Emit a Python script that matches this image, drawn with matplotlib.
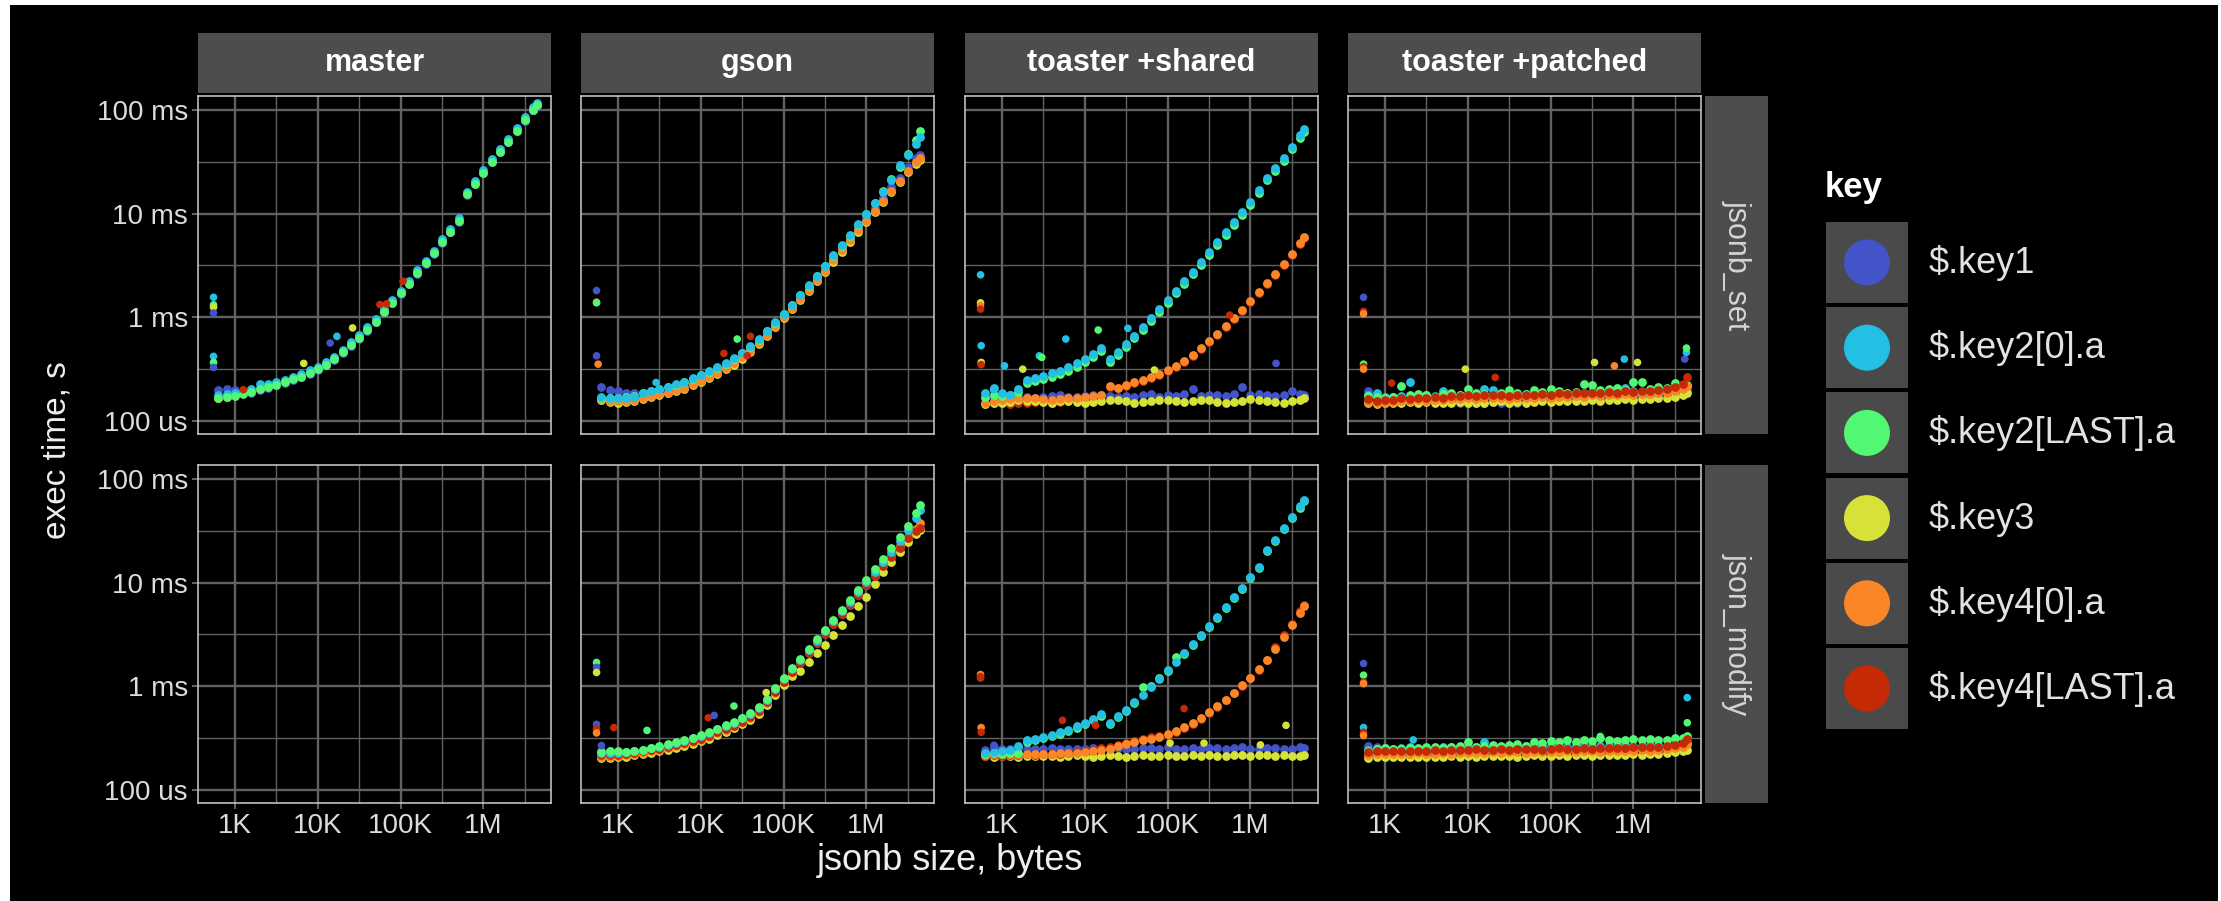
import matplotlib
matplotlib.use('Agg')
import matplotlib.pyplot as plt
from matplotlib.patches import Rectangle, Circle
from matplotlib.ticker import NullFormatter

plt.rcParams['font.family'] = ['Liberation Sans', 'DejaVu Sans']

W, H = 2221, 901

keys = ['$.key1', '$.key2[0].a', '$.key2[LAST].a', '$.key3', '$.key4[0].a', '$.key4[LAST].a']
key_colors = ['#4354c8', '#23c0e3', '#52f774', '#d6e237', '#fb8628', '#c42a06']
implementations = ['master', 'gson', 'toaster +shared', 'toaster +patched']
functions = ['jsonb_set', 'json_modify']

x_ticks = [1e3, 1e4, 1e5, 1e6]
x_labels = ['1K', '10K', '100K', '1M']
x_minor = [3162, 31623, 316228, 3162278]
y_ticks = [1e-4, 1e-3, 1e-2, 1e-1]
y_labels = ['100 us', '1 ms', '10 ms', '100 ms']
y_minor = [3.162e-4, 3.162e-3, 3.162e-2]

# jsonb size, bytes
sizes = [630, 790, 1000, 1260, 1580, 2000, 2510, 3160, 3980, 5010,
         6310, 7940, 10000, 12600, 15800, 20000, 25100, 31600, 39800, 50100,
         63100, 79400, 100000, 126000, 158000, 200000, 251000, 316000, 398000, 501000,
         631000, 794000, 1000000, 1260000, 1580000, 2000000, 2510000, 3160000, 3980000, 4470000]

# exec time, microseconds

# master / jsonb_set
master_set_blue = [200, 203, 198, 186, 188, 198, 210, 220, 232, 250,
                   264, 286, 312, 345, 390, 452, 532, 622, 745, 898,
                   1120, 1370, 1690, 2080, 2640, 3300, 4120, 5250, 6600, 8300,
                   15200, 19300, 24500, 31200, 39000, 48800, 62500, 79000, 99000, 110000]
master_set_cyan = [178, 180, 184, 192, 205, 226, 228, 236, 250, 268,
                   284, 308, 335, 368, 418, 486, 572, 668, 800, 962,
                   1200, 1470, 1810, 2230, 2830, 3530, 4400, 5640, 7040, 9100,
                   16300, 20700, 26200, 33500, 41900, 52300, 66800, 84800, 106000, 118000]
master_set_green = [168, 170, 175, 181, 190, 202, 213, 223, 235, 252,
                    268, 290, 316, 348, 395, 458, 540, 631, 754, 908,
                    1135, 1387, 1707, 2101, 2668, 3330, 4160, 5320, 6640, 8420,
                    15400, 19500, 24700, 31600, 39500, 49300, 63000, 80000, 100000, 112000]
master_set_rest = [165, 172, 178, 184, 192, 205, 216, 226, 238, 255,
                   272, 294, 320, 352, 400, 463, 548, 640, 765, 920,
                   1150, 1400, 1720, 2120, 2690, 3360, 4200, 5370, 6700, 8500,
                   15500, 19700, 25000, 31900, 39900, 49800, 63600, 80800, 101000, 113000]
master_set_out_size = [550, 550, 550, 550, 550, 550, 550, 26300, 17000, 14100, 6760, 56200, 67600, 107000, 1260]
master_set_out_us = [1560, 1320, 1250, 1100, 420, 367, 328, 790, 655, 565, 359, 1330, 1350, 2230, 200]
master_set_out_key = [1, 2, 3, 0, 1, 2, 0, 3, 1, 0, 3, 5, 5, 5, 5]

# gson / jsonb_set
gson_set_blue = [213, 200, 195, 188, 184, 184, 188, 193, 195, 202,
                 213, 232, 252, 277, 304, 338, 378, 429, 497, 590,
                 711, 862, 1053, 1287, 1585, 1950, 2420, 3000, 3750, 4690,
                 5860, 7330, 9160, 11400, 14300, 17900, 22300, 27900, 34100, 36600]
gson_set_cyan = [170, 167, 165, 168, 172, 186, 196, 205, 214, 226,
                 240, 257, 279, 300, 328, 362, 404, 455, 524, 617,
                 743, 895, 1077, 1326, 1645, 2040, 2530, 3160, 3950, 4940,
                 6200, 7900, 10000, 12700, 16200, 21000, 29400, 36700, 47500, 55100]
gson_set_green = [168, 165, 166, 170, 175, 184, 194, 203, 212, 224,
                  238, 255, 276, 298, 325, 358, 400, 450, 518, 610,
                  735, 885, 1065, 1310, 1630, 2020, 2510, 3130, 3920, 4900,
                  6150, 7850, 9950, 12800, 16400, 21500, 28500, 37500, 51000, 63000]
gson_set_yellow = [158, 152, 150, 152, 155, 162, 170, 177, 184, 194,
                   205, 222, 238, 260, 286, 316, 350, 400, 464, 550,
                   658, 798, 975, 1190, 1465, 1805, 2240, 2760, 3450, 4300,
                   5380, 6720, 8280, 10300, 12900, 16100, 20100, 25000, 30200, 33000]
gson_set_orange = [162, 156, 154, 156, 158, 166, 174, 181, 188, 198,
                   210, 227, 244, 266, 293, 324, 359, 410, 476, 564,
                   674, 818, 1000, 1222, 1504, 1852, 2297, 2827, 3540, 4420,
                   5520, 6900, 8500, 10600, 13300, 16600, 20700, 25900, 31400, 34100]
gson_set_red = [160, 158, 155, 157, 160, 168, 176, 183, 190, 200,
                212, 229, 247, 270, 297, 328, 364, 416, 482, 570,
                680, 826, 1010, 1235, 1520, 1870, 2320, 2850, 3580, 4460,
                5570, 6960, 8580, 10700, 13400, 16800, 20900, 26200, 31800, 34600]
gson_set_out_size = [550, 550, 550, 550, 575, 27500, 19000, 39800, 36300, 2880]
gson_set_out_us = [1810, 1400, 1380, 425, 353, 617, 448, 655, 425, 235]
gson_set_out_key = [0, 4, 2, 0, 4, 2, 5, 5, 5, 1]

# toaster +shared / jsonb_set
shared_set_blue = [165, 170, 168, 172, 175, 172, 168, 170, 174, 176,
                   172, 170, 173, 176, 178, 174, 172, 175, 172, 178,
                   181, 172, 176, 174, 180, 202, 174, 178, 176, 174,
                   180, 213, 176, 180, 178, 174, 176, 195, 180, 176]
shared_set_cyan = [188, 210, 188, 179, 202, 248, 259, 273, 287, 304,
                   328, 359, 395, 442, 505, 395, 458, 552, 665, 812,
                   985, 1204, 1471, 1811, 2230, 2764, 3430, 4260, 5320, 6640,
                   8300, 10400, 12900, 16800, 22300, 27300, 34100, 44300, 57100, 65000]
shared_set_green = [172, 176, 175, 178, 190, 232, 242, 255, 268, 284,
                    306, 335, 368, 412, 470, 372, 430, 518, 625, 762,
                    925, 1130, 1380, 1700, 2100, 2600, 3230, 4000, 5000, 6250,
                    7800, 9800, 12200, 15900, 21000, 25800, 32200, 42000, 54000, 62000]
shared_set_yellow = [145, 150, 148, 152, 160, 156, 154, 152, 150, 155,
                     157, 153, 150, 152, 155, 158, 160, 154, 150, 152,
                     156, 160, 158, 154, 152, 155, 160, 158, 153, 150,
                     152, 156, 162, 158, 154, 152, 150, 154, 158, 165]
shared_set_orange = [150, 156, 158, 162, 166, 168, 166, 162, 160, 162,
                     166, 168, 171, 175, 179, 218, 210, 223, 235, 248,
                     263, 283, 309, 340, 381, 435, 505, 586, 690, 824,
                     985, 1186, 1428, 1744, 2134, 2627, 3280, 4100, 5190, 5950]
shared_set_red = [146, 148, 150, 146, 150, 148, 152, 155, 150, 153,
                  156, 158, 162, 166, 170, 212, 206, 218, 230, 242,
                  258, 278, 302, 333, 373, 426, 495, 574, 676, 808,
                  965, 1160, 1400, 1710, 2090, 2575, 3210, 4020, 5090, 5830]
shared_set_out_size = [550, 550, 550, 550, 560, 560, 560, 1070, 1780, 2820, 3020, 5890,
                       14500, 33100, 69200, 562000, 2040000, 790]
shared_set_out_us = [2570, 1380, 1300, 1200, 532, 367, 349, 340, 316, 425, 410, 617,
                     754, 783, 310, 1050, 359, 200]
shared_set_out_key = [1, 3, 4, 5, 1, 3, 5, 1, 3, 1, 2, 1, 2, 1, 3, 5, 0, 1]

# toaster +patched / jsonb_set
patched_set_blue = [195, 180, 165, 162, 160, 158, 162, 160, 163, 158,
                    152, 150, 150, 148, 150, 152, 150, 148, 150, 152,
                    160, 162, 165, 163, 166, 168, 165, 170, 168, 172,
                    170, 174, 172, 176, 178, 175, 180, 185, 190, 200]
patched_set_cyan = [176, 188, 172, 170, 175, 240, 178, 176, 174, 195,
                    178, 176, 180, 182, 203, 200, 182, 180, 178, 182,
                    180, 184, 182, 186, 184, 188, 186, 190, 188, 190,
                    192, 210, 194, 192, 196, 194, 198, 200, 210, 218]
patched_set_green = [175, 170, 168, 172, 218, 178, 180, 176, 172, 180,
                     184, 178, 205, 185, 180, 178, 186, 200, 188, 182,
                     198, 190, 205, 196, 188, 192, 225, 220, 198, 205,
                     210, 200, 240, 235, 205, 212, 206, 230, 215, 222]
patched_set_yellow = [148, 146, 148, 150, 150, 152, 150, 152, 150, 148,
                      150, 152, 150, 148, 150, 152, 154, 150, 152, 150,
                      153, 155, 152, 156, 154, 157, 155, 160, 156, 160,
                      158, 162, 160, 163, 162, 165, 168, 172, 178, 185]
patched_set_orange = [152, 150, 150, 152, 156, 155, 158, 157, 160, 158,
                      162, 163, 165, 163, 166, 165, 167, 164, 166, 165,
                      168, 170, 167, 172, 170, 174, 172, 176, 173, 178,
                      176, 180, 178, 182, 180, 184, 186, 195, 205, 215]
patched_set_red = [162, 156, 158, 160, 166, 162, 168, 166, 171, 168,
                   173, 175, 179, 175, 179, 176, 179, 175, 177, 176,
                   179, 181, 179, 184, 181, 188, 184, 188, 184, 190,
                   188, 193, 190, 195, 193, 198, 202, 213, 229, 263]
patched_set_out_size = [550, 550, 550, 550, 550, 550, 9330, 21400, 339000, 589000,
                        776000, 1120000, 4170000, 4370000, 4370000, 1200]
patched_set_out_us = [1560, 1140, 1080, 353, 335, 316, 316, 263, 367, 340,
                      395, 367, 395, 458, 505, 232]
patched_set_out_key = [0, 5, 4, 2, 5, 4, 3, 5, 3, 4, 1, 3, 0, 1, 2, 5]

# gson / json_modify
gson_mod_blue = [240, 236, 234, 230, 232, 236, 244, 252, 260, 270,
                 284, 297, 313, 335, 364, 391, 418, 458, 508, 580,
                 700, 880, 1100, 1365, 1690, 2095, 2600, 3220, 4000, 4970,
                 6150, 7640, 9460, 11650, 14350, 17650, 21700, 26600, 31400, 33900]
gson_mod_cyan = [228, 225, 226, 230, 236, 243, 252, 262, 272, 284,
                 298, 315, 333, 356, 386, 415, 446, 490, 545, 620,
                 740, 940, 1180, 1460, 1800, 2230, 2760, 3420, 4250, 5280,
                 6550, 8150, 10100, 12600, 15700, 19700, 25000, 32000, 42000, 50000]
gson_mod_green = [232, 236, 240, 232, 238, 245, 254, 264, 275, 287,
                  300, 318, 336, 360, 390, 420, 452, 496, 552, 630,
                  752, 955, 1200, 1490, 1840, 2280, 2830, 3510, 4370, 5450,
                  6800, 8500, 10600, 13500, 17000, 21800, 27500, 35500, 47000, 56000]
gson_mod_yellow = [205, 203, 206, 210, 215, 221, 228, 236, 244, 254,
                   266, 279, 294, 313, 340, 365, 392, 428, 476, 545,
                   655, 820, 1020, 1250, 1420, 1720, 2100, 2500, 3100, 3900,
                   4800, 5900, 7300, 9700, 12600, 16000, 19900, 24500, 29500, 32000]
gson_mod_orange = [210, 208, 212, 216, 222, 228, 236, 244, 253, 263,
                   277, 290, 306, 327, 355, 382, 410, 448, 498, 570,
                   690, 870, 1090, 1370, 1720, 2150, 2680, 3300, 4080, 5050,
                   6250, 7750, 9600, 11850, 14700, 18200, 22500, 27800, 33000, 37500]
gson_mod_red = [218, 215, 218, 223, 228, 235, 242, 250, 259, 269,
                283, 296, 312, 333, 362, 389, 416, 455, 505, 577,
                700, 880, 1101, 1366, 1694, 2100, 2606, 3230, 4010, 4980,
                6170, 7660, 9490, 11700, 14400, 17700, 21800, 26700, 31500, 34000]
gson_mod_out_size = [550, 550, 550, 550, 550, 550, 890, 2240, 630, 12300, 14500, 25100, 61700]
gson_mod_out_us = [1700, 1520, 1360, 430, 390, 355, 400, 375, 268, 497, 524, 645, 870]
gson_mod_out_key = [2, 0, 3, 0, 5, 4, 5, 2, 0, 5, 0, 2, 3]

# toaster +shared / json_modify
shared_mod_blue = [245, 262, 250, 246, 252, 248, 250, 247, 252, 249,
                   251, 248, 250, 253, 249, 251, 254, 250, 248, 252,
                   255, 251, 262, 250, 248, 253, 250, 256, 252, 249,
                   254, 260, 251, 248, 253, 256, 251, 249, 258, 252]
shared_mod_cyan = [226, 230, 235, 244, 263, 300, 309, 323, 340, 359,
                   381, 410, 442, 483, 536, 442, 512, 595, 700, 824,
                   985, 1186, 1429, 1732, 2101, 2550, 3115, 3810, 4690, 5820,
                   7210, 8940, 11270, 14290, 20680, 25900, 33600, 42900, 54500, 63000]
shared_mod_green = [222, 225, 222, 226, 228, 290, 300, 315, 330, 350,
                    372, 400, 430, 470, 520, 430, 500, 580, 690, 985,
                    1000, 1200, 1420, 1920, 2060, 2500, 3050, 3730, 4600, 5700,
                    7050, 8750, 11000, 14000, 20200, 25300, 33000, 42000, 53000, 61500]
shared_mod_yellow = [212, 210, 214, 212, 210, 213, 211, 214, 212, 210,
                     213, 215, 212, 210, 214, 216, 212, 210, 213, 215,
                     214, 212, 216, 214, 212, 216, 213, 218, 214, 212,
                     216, 218, 213, 217, 215, 213, 216, 214, 212, 218]
shared_mod_orange = [215, 220, 223, 220, 223, 220, 223, 221, 223, 225,
                     226, 228, 230, 237, 244, 251, 263, 275, 287, 300,
                     312, 323, 343, 370, 404, 445, 497, 560, 640, 743,
                     868, 1022, 1213, 1461, 1784, 2315, 3000, 3890, 5120, 5940]
shared_mod_red = [212, 216, 214, 218, 216, 220, 218, 222, 220, 224,
                  226, 230, 236, 245, 254, 262, 273, 285, 298, 310,
                  322, 333, 338, 362, 395, 436, 488, 550, 628, 730,
                  855, 1005, 1195, 1450, 1800, 2380, 3100, 4020, 5300, 6100]
shared_mod_out_size = [550, 550, 550, 560, 560, 5370, 13500, 158000, 2690000, 107000, 275000, 1320000, 800]
shared_mod_out_us = [1300, 1240, 1200, 400, 360, 470, 420, 610, 420, 283, 283, 272, 270]
shared_mod_out_key = [4, 5, 5, 4, 5, 5, 5, 5, 3, 3, 3, 3, 0]

# toaster +patched / json_modify
patched_mod_blue = [268, 262, 240, 236, 238, 235, 240, 237, 238, 240,
                    236, 242, 240, 238, 241, 244, 240, 242, 245, 241,
                    244, 246, 243, 245, 248, 244, 247, 250, 246, 249,
                    252, 248, 251, 254, 250, 253, 256, 260, 265, 270]
patched_mod_cyan = [245, 250, 252, 248, 255, 258, 250, 255, 252, 260,
                    258, 262, 256, 262, 290, 258, 262, 255, 260, 265,
                    262, 258, 265, 262, 260, 266, 264, 262, 268, 265,
                    262, 270, 266, 268, 272, 270, 268, 274, 280, 290]
patched_mod_green = [240, 248, 252, 246, 250, 255, 252, 258, 262, 255,
                     260, 265, 290, 262, 268, 272, 265, 270, 275, 268,
                     290, 285, 295, 288, 300, 292, 305, 298, 315, 300,
                     295, 305, 310, 300, 312, 305, 300, 315, 320, 330]
patched_mod_yellow = [205, 208, 206, 209, 207, 210, 208, 206, 210, 208,
                      211, 209, 212, 210, 213, 211, 214, 212, 210, 213,
                      215, 212, 214, 216, 213, 215, 218, 214, 216, 219,
                      215, 218, 220, 217, 220, 223, 226, 230, 236, 245]
patched_mod_orange = [218, 222, 220, 224, 222, 220, 225, 222, 224, 226,
                      223, 226, 228, 225, 228, 230, 227, 230, 232, 229,
                      231, 234, 230, 233, 236, 232, 235, 238, 234, 237,
                      240, 236, 240, 244, 240, 245, 250, 255, 262, 275]
patched_mod_red = [232, 236, 238, 235, 240, 237, 240, 238, 242, 240,
                   244, 241, 243, 246, 242, 245, 248, 244, 246, 250,
                   247, 245, 249, 252, 248, 251, 254, 250, 253, 256,
                   252, 255, 258, 262, 258, 262, 266, 272, 285, 312]
patched_mod_out_size = [550, 550, 550, 550, 550, 550, 550, 2190, 4470000, 4470000, 398000]
patched_mod_out_us = [1660, 1280, 1100, 1060, 400, 360, 335, 304, 777, 445, 328]
patched_mod_out_key = [0, 2, 5, 4, 1, 5, 4, 1, 1, 2, 2]

# (row, col) -> per-key series, outliers, drawing order
panels = {
    (0, 0): ([master_set_blue, master_set_cyan, master_set_green,
              master_set_rest, master_set_rest, master_set_rest],
             (master_set_out_size, master_set_out_us, master_set_out_key), [3, 4, 5, 0, 1, 2]),
    (0, 1): ([gson_set_blue, gson_set_cyan, gson_set_green,
              gson_set_yellow, gson_set_orange, gson_set_red],
             (gson_set_out_size, gson_set_out_us, gson_set_out_key), [5, 3, 0, 4, 2, 1]),
    (0, 2): ([shared_set_blue, shared_set_cyan, shared_set_green,
              shared_set_yellow, shared_set_orange, shared_set_red],
             (shared_set_out_size, shared_set_out_us, shared_set_out_key), [5, 0, 3, 4, 2, 1]),
    (0, 3): ([patched_set_blue, patched_set_cyan, patched_set_green,
              patched_set_yellow, patched_set_orange, patched_set_red],
             (patched_set_out_size, patched_set_out_us, patched_set_out_key), [0, 1, 2, 3, 4, 5]),
    (1, 1): ([gson_mod_blue, gson_mod_cyan, gson_mod_green,
              gson_mod_yellow, gson_mod_orange, gson_mod_red],
             (gson_mod_out_size, gson_mod_out_us, gson_mod_out_key), [0, 3, 4, 5, 1, 2]),
    (1, 2): ([shared_mod_blue, shared_mod_cyan, shared_mod_green,
              shared_mod_yellow, shared_mod_orange, shared_mod_red],
             (shared_mod_out_size, shared_mod_out_us, shared_mod_out_key), [0, 3, 5, 4, 2, 1]),
    (1, 3): ([patched_mod_blue, patched_mod_cyan, patched_mod_green,
              patched_mod_yellow, patched_mod_orange, patched_mod_red],
             (patched_mod_out_size, patched_mod_out_us, patched_mod_out_key), [0, 1, 2, 3, 4, 5]),
}

col_px = [(198, 551), (581, 934), (965, 1318), (1348, 1701)]
row_px = [(96, 434), (465, 803)]


def fbox(x0, y0, x1, y1):
    # pixel box, origin top-left -> figure fraction
    return [x0 / W, 1 - y1 / H, (x1 - x0) / W, (y1 - y0) / H]


fig = plt.figure(figsize=(W / 100, H / 100), dpi=100, facecolor='white')
fig.add_artist(Rectangle((10 / W, 0), (W - 13) / W, (H - 5) / H, transform=fig.transFigure,
                         facecolor='black', edgecolor='none', zorder=-10))

grid_col = '#616161'
for r, (y0, y1) in enumerate(row_px):
    for c, (x0, x1) in enumerate(col_px):
        ax = fig.add_axes(fbox(x0, y0, x1, y1))
        ax.set_facecolor('black')
        ax.set_xscale('log')
        ax.set_yscale('log')
        ax.set_xlim(357, 6.55e6)
        ax.set_ylim(7.48e-5, 0.1366)
        ax.set_xticks(x_ticks, labels=x_labels)
        ax.set_xticks(x_minor, minor=True)
        ax.set_yticks(y_ticks, labels=y_labels)
        ax.set_yticks(y_minor, minor=True)
        ax.xaxis.set_minor_formatter(NullFormatter())
        ax.yaxis.set_minor_formatter(NullFormatter())
        ax.grid(which='major', color=grid_col, linewidth=1.7)
        ax.grid(which='minor', color=grid_col, linewidth=1.0)
        ax.set_axisbelow(True)
        for sp in ax.spines.values():
            sp.set_color('#cfcfcf')
            sp.set_linewidth(1.1)
        ax.tick_params(which='minor', length=0)
        ax.tick_params(which='major', colors='#808080', labelcolor='#dcdcdc', labelsize=20,
                       length=4.3, width=1.1, pad=3)
        ax.tick_params(axis='x', labelbottom=(r == 1), bottom=(r == 1))
        ax.tick_params(axis='y', labelleft=(c == 0), left=(c == 0))

        if (r, c) in panels:
            series, outliers, order = panels[(r, c)]
            for k in order:
                ax.scatter(sizes, [v * 1e-6 for v in series[k]], s=40, color=key_colors[k],
                           linewidths=0, zorder=2)
            o_size, o_us, o_key = outliers
            ax.scatter(o_size, [v * 1e-6 for v in o_us], s=30,
                       color=[key_colors[k] for k in o_key], linewidths=0, zorder=3)

# facet strips
for c, (x0, x1) in enumerate(col_px):
    sax = fig.add_axes(fbox(x0, 33, x1, 93))
    sax.set_facecolor('#4d4d4d')
    sax.set_xticks([])
    sax.set_yticks([])
    for sp in sax.spines.values():
        sp.set_visible(False)
    sax.text(0.5, 0.5, implementations[c], ha='center', va='center', fontsize=22,
             fontweight='bold', color='white', transform=sax.transAxes)

for r, (y0, y1) in enumerate(row_px):
    sax = fig.add_axes(fbox(1705, y0, 1768, y1))
    sax.set_facecolor('#4d4d4d')
    sax.set_xticks([])
    sax.set_yticks([])
    for sp in sax.spines.values():
        sp.set_visible(False)
    sax.text(0.5, 0.5, functions[r], ha='center', va='center', fontsize=22, rotation=-90,
             color='#d4d4d4', transform=sax.transAxes)

fig.text(57 / W, 1 - 450 / H, 'exec time, s', rotation=90, ha='center', va='center',
         fontsize=24, color='#eeeeee')
fig.text(950 / W, 1 - 860 / H, 'jsonb size, bytes', ha='center', va='center',
         fontsize=26, color='#eeeeee')

# legend, drawn in pixel coordinates
lax = fig.add_axes([0, 0, 1, 1])
lax.set_xlim(0, W)
lax.set_ylim(H, 0)
lax.axis('off')
lax.text(1825, 187, 'key', ha='left', va='center', fontsize=25, fontweight='bold', color='white')
for i, (name, col) in enumerate(zip(keys, key_colors)):
    top = 222 + i * 85.2
    lax.add_patch(Rectangle((1826, top), 82, 81, facecolor='#4a4a4a', edgecolor='none'))
    lax.add_patch(Circle((1867, top + 40.5), 23, facecolor=col, edgecolor='none'))
    lax.text(1929, top + 41, name, ha='left', va='center', fontsize=26, color='#e2e2e2')

fig.savefig('out.png', dpi=100, facecolor=fig.get_facecolor())
